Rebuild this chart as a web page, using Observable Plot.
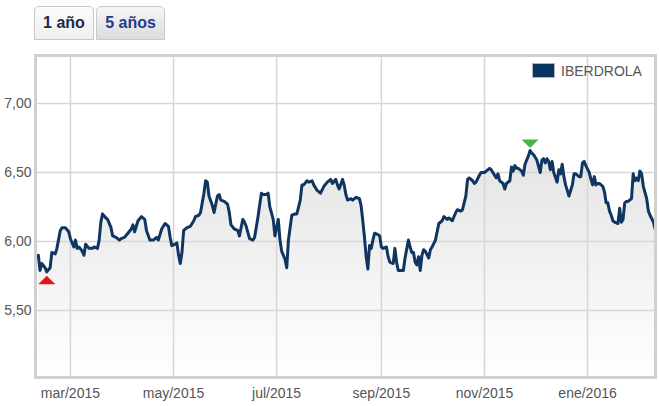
<!DOCTYPE html>
<html>
<head>
<meta charset="utf-8">
<script src="https://cdn.jsdelivr.net/npm/d3@7"></script>
<script src="https://cdn.jsdelivr.net/npm/@observablehq/plot@0.6"></script>
<style>
  html, body { margin: 0; padding: 0; background: #fff; }
  #wrap { position: relative; width: 659px; height: 406px; overflow: hidden; font-family: "Liberation Sans", Arial, sans-serif; }
  #tabs { position: relative; height: 50px; }
  .tab { position: absolute; top: 6px; height: 34px; border: 1px solid #c9c9c9; border-radius: 5px 5px 0 0;
         font: bold 16px "Liberation Sans", Arial, sans-serif; line-height: 32px; text-align: center; box-sizing: border-box; }
  .tab.active { left: 34px; width: 60px; background: linear-gradient(#fbfbfb, #f0f0f0); color: #1b2b4a; }
  .tab.other { left: 96px; width: 69px; background: linear-gradient(#f6f6f6, #dcdcdc); color: #1d3b8e; }
  svg { display: block; }
</style>
</head>
<body>
<div id="wrap">
  <div id="tabs"><div class="tab active">1 año</div><div class="tab other">5 años</div></div>
  <div id="chart"></div>
</div>
<script>
const seriesName = "IBERDROLA";
const tabLabels = ["1 año", "5 años"];

const dates = [
"2015-02-10","2015-02-11","2015-02-12","2015-02-14","2015-02-15","2015-02-17","2015-02-18","2015-02-20","2015-02-21","2015-02-23",
"2015-02-24","2015-02-26","2015-02-28","2015-03-01","2015-03-03","2015-03-04","2015-03-05","2015-03-06","2015-03-08","2015-03-09",
"2015-03-10","2015-03-12","2015-03-14","2015-03-15","2015-03-17","2015-03-18","2015-03-19","2015-03-20","2015-03-22","2015-03-23",
"2015-03-25","2015-03-26","2015-03-28","2015-03-30","2015-03-31","2015-04-02","2015-04-04","2015-04-06","2015-04-07","2015-04-08",
"2015-04-10","2015-04-12","2015-04-14","2015-04-15","2015-04-17","2015-04-19","2015-04-21","2015-04-22","2015-04-24","2015-04-26",
"2015-04-28","2015-04-29","2015-04-30","2015-05-02","2015-05-03","2015-05-04","2015-05-05","2015-05-06","2015-05-07","2015-05-09",
"2015-05-11","2015-05-13","2015-05-14","2015-05-16","2015-05-17","2015-05-19","2015-05-20","2015-05-21","2015-05-22","2015-05-24",
"2015-05-25","2015-05-27","2015-05-28","2015-05-29","2015-05-31","2015-06-02","2015-06-03","2015-06-04","2015-06-06","2015-06-08",
"2015-06-09","2015-06-11","2015-06-12","2015-06-13","2015-06-15","2015-06-17","2015-06-18","2015-06-20","2015-06-22","2015-06-23",
"2015-06-25","2015-06-26","2015-06-27","2015-06-29","2015-06-30","2015-07-01","2015-07-02","2015-07-03","2015-07-04","2015-07-06",
"2015-07-07","2015-07-08","2015-07-10","2015-07-12","2015-07-13","2015-07-15","2015-07-16","2015-07-17","2015-07-19","2015-07-20",
"2015-07-22","2015-07-23","2015-07-25","2015-07-27","2015-07-29","2015-07-31","2015-08-02","2015-08-03","2015-08-05","2015-08-06",
"2015-08-07","2015-08-09","2015-08-10","2015-08-11","2015-08-12","2015-08-14","2015-08-15","2015-08-17","2015-08-19","2015-08-20",
"2015-08-21","2015-08-22","2015-08-23","2015-08-24","2015-08-25","2015-08-26","2015-08-27","2015-08-28","2015-08-30","2015-08-31",
"2015-09-01","2015-09-02","2015-09-04","2015-09-05","2015-09-06","2015-09-08","2015-09-09","2015-09-10","2015-09-11","2015-09-12",
"2015-09-14","2015-09-15","2015-09-17","2015-09-18","2015-09-19","2015-09-20","2015-09-21","2015-09-22","2015-09-23","2015-09-24",
"2015-09-25","2015-09-26","2015-09-27","2015-09-29","2015-09-30","2015-10-01","2015-10-03","2015-10-04","2015-10-05","2015-10-07",
"2015-10-08","2015-10-10","2015-10-11","2015-10-13","2015-10-15","2015-10-16","2015-10-18","2015-10-19","2015-10-21","2015-10-22",
"2015-10-23","2015-10-25","2015-10-26","2015-10-27","2015-10-29","2015-10-30","2015-11-01","2015-11-02","2015-11-04","2015-11-05",
"2015-11-07","2015-11-08","2015-11-09","2015-11-10","2015-11-11","2015-11-12","2015-11-13","2015-11-14","2015-11-16","2015-11-17",
"2015-11-18","2015-11-19","2015-11-20","2015-11-21","2015-11-23","2015-11-24","2015-11-25","2015-11-27","2015-11-28","2015-11-29",
"2015-11-30","2015-12-01","2015-12-02","2015-12-04","2015-12-05","2015-12-06","2015-12-07","2015-12-08","2015-12-09","2015-12-10",
"2015-12-11","2015-12-12","2015-12-14","2015-12-15","2015-12-16","2015-12-17","2015-12-18","2015-12-19","2015-12-20","2015-12-21",
"2015-12-23","2015-12-24","2015-12-25","2015-12-27","2015-12-28","2015-12-29","2015-12-30","2015-12-31","2016-01-02","2016-01-03",
"2016-01-04","2016-01-05","2016-01-06","2016-01-07","2016-01-08","2016-01-09","2016-01-10","2016-01-11","2016-01-12","2016-01-13",
"2016-01-14","2016-01-15","2016-01-16","2016-01-17","2016-01-19","2016-01-20","2016-01-21","2016-01-22","2016-01-23","2016-01-24",
"2016-01-25","2016-01-27","2016-01-28","2016-01-29","2016-01-30","2016-01-31","2016-02-01","2016-02-02","2016-02-03","2016-02-05",
"2016-02-06","2016-02-07","2016-02-09","2016-02-10"
];

const prices = [
5.90,5.79,5.84,5.81,5.78,5.81,5.92,5.91,5.95,6.08,
6.10,6.10,6.07,6.02,5.96,6.01,5.95,5.96,5.93,5.90,
5.98,5.95,5.95,5.96,5.95,6.01,6.14,6.20,6.17,6.16,
6.10,6.04,6.03,6.01,6.02,6.03,6.06,6.09,6.12,6.07,
6.15,6.18,6.16,6.08,6.01,6.01,6.03,6.01,6.09,6.13,
6.11,6.03,5.97,5.98,5.99,5.90,5.84,5.92,6.08,6.10,
6.11,6.15,6.18,6.19,6.21,6.35,6.44,6.43,6.33,6.26,
6.21,6.33,6.34,6.30,6.29,6.27,6.21,6.12,6.09,6.08,
6.04,6.16,6.14,6.11,6.02,6.01,6.03,6.18,6.35,6.34,
6.34,6.35,6.25,6.16,6.04,6.10,6.16,6.01,5.93,5.87,
5.81,6.01,6.19,6.20,6.20,6.30,6.41,6.41,6.44,6.43,
6.44,6.41,6.37,6.35,6.40,6.43,6.45,6.42,6.45,6.41,
6.38,6.45,6.41,6.34,6.30,6.31,6.30,6.32,6.31,6.26,
6.15,6.03,5.89,5.80,5.97,5.95,6.01,6.06,6.05,6.04,
5.96,5.95,5.96,5.89,5.85,5.84,5.95,5.85,5.79,5.79,
5.79,5.88,6.01,5.96,5.92,5.92,5.85,5.83,5.89,5.79,
5.90,5.94,5.93,5.88,5.94,5.96,6.01,6.07,6.13,6.15,
6.18,6.16,6.17,6.15,6.21,6.23,6.22,6.23,6.33,6.45,
6.46,6.44,6.42,6.43,6.48,6.50,6.50,6.51,6.53,6.52,
6.48,6.46,6.49,6.44,6.43,6.42,6.38,6.42,6.44,6.54,
6.51,6.55,6.53,6.53,6.51,6.48,6.56,6.62,6.66,6.64,
6.63,6.61,6.59,6.50,6.59,6.60,6.57,6.60,6.58,6.52,
6.58,6.50,6.43,6.52,6.49,6.56,6.47,6.41,6.37,6.33,
6.41,6.49,6.49,6.47,6.47,6.57,6.58,6.55,6.50,6.45,
6.41,6.47,6.41,6.42,6.42,6.41,6.40,6.36,6.28,6.28,
6.22,6.19,6.15,6.14,6.13,6.24,6.14,6.16,6.28,6.29,
6.29,6.31,6.49,6.44,6.46,6.44,6.51,6.49,6.40,6.31,
6.22,6.19,6.14,6.09
];

const xTickDates = ["2015-03-01","2015-05-01","2015-07-01","2015-09-01","2015-11-01","2016-01-01"];
const xTickLabels = ["mar/2015","may/2015","jul/2015","sep/2015","nov/2015","ene/2016"];
const yTicks = [5.5, 6.0, 6.5, 7.0];

const minPoint = {date: "2015-02-15", value: 5.78};
const maxPoint = {date: "2015-11-28", value: 6.66};

const data = dates.map((d, i) => ({date: new Date(d), value: prices[i]}));
const tickDates = xTickDates.map(d => new Date(d));
const labelByTime = new Map(tickDates.map((d, i) => [+d, xTickLabels[i]]));
const yDomain = [5.014, 7.348];
const xDomain = [new Date("2015-02-08T08:00:00Z"), new Date("2016-02-10T05:00:00Z")];

const triUp = { draw(ctx) { ctx.moveTo(0, -4.5); ctx.lineTo(8.5, 4); ctx.lineTo(-8.5, 4); ctx.closePath(); } };
const triDown = { draw(ctx) { ctx.moveTo(0, 4.5); ctx.lineTo(8.5, -4); ctx.lineTo(-8.5, -4); ctx.closePath(); } };

const plot = Plot.plot({
  width: 659,
  height: 356,
  marginLeft: 35,
  marginRight: 4,
  marginTop: 5,
  marginBottom: 29,
  style: {fontFamily: "'Liberation Sans', Arial, sans-serif", fontSize: "14px", color: "#555", background: "#fff"},
  x: {type: "utc", domain: xDomain, label: null},
  y: {domain: yDomain, label: null},
  marks: [
    Plot.areaY(data, {x: "date", y1: () => yDomain[0], y2: "value", fill: "url(#areaGrad)", curve: "linear"}),
    Plot.gridX(tickDates, {stroke: "#d6d6d6", strokeOpacity: 1, strokeWidth: 1.5}),
    Plot.gridY(yTicks, {stroke: "#d6d6d6", strokeOpacity: 1, strokeWidth: 1.5}),
    Plot.line(data, {x: "date", y: "value", stroke: "#0f3562", strokeWidth: 3, strokeLinejoin: "round"}),
    Plot.dot([minPoint], {x: d => new Date(d.date), y: "value", symbol: triUp, fill: "#e4141b", stroke: "none", dy: 8.5}),
    Plot.dot([maxPoint], {x: d => new Date(d.date), y: "value", symbol: triDown, fill: "#45b545", stroke: "none", dy: -7}),
    Plot.frame({stroke: "#d0d0d0", strokeWidth: 3}),
    Plot.axisY({ticks: yTicks, label: null, tickSize: 0, tickPadding: 4, tickFormat: d => d.toFixed(2).replace(".", ","), fill: "#555", fontSize: 14}),
    Plot.axisX({ticks: tickDates, label: null, tickSize: 0, tickPadding: 11, tickFormat: d => labelByTime.get(+d), fill: "#555", fontSize: 14})
  ]
});

const svg = d3.select(plot);
const grad = svg.insert("defs", ":first-child").append("linearGradient")
  .attr("id", "areaGrad").attr("x1", 0).attr("y1", 0).attr("x2", 0).attr("y2", 1);
grad.append("stop").attr("offset", "0%").attr("stop-color", "#e4e4e4");
grad.append("stop").attr("offset", "100%").attr("stop-color", "#ffffff");

// legend (top-right, inside the frame)
const lg = svg.append("g");
lg.append("rect").attr("x", 532.5).attr("y", 13.5).attr("width", 22).attr("height", 14)
  .attr("fill", "#0c3461").attr("stroke", "#b5b5b5");
lg.append("text").attr("x", 561).attr("y", 26).attr("fill", "#555").attr("text-anchor", "start")
  .style("font-size", "14px").text(seriesName);

document.getElementById("chart").appendChild(plot);
</script>
</body>
</html>
